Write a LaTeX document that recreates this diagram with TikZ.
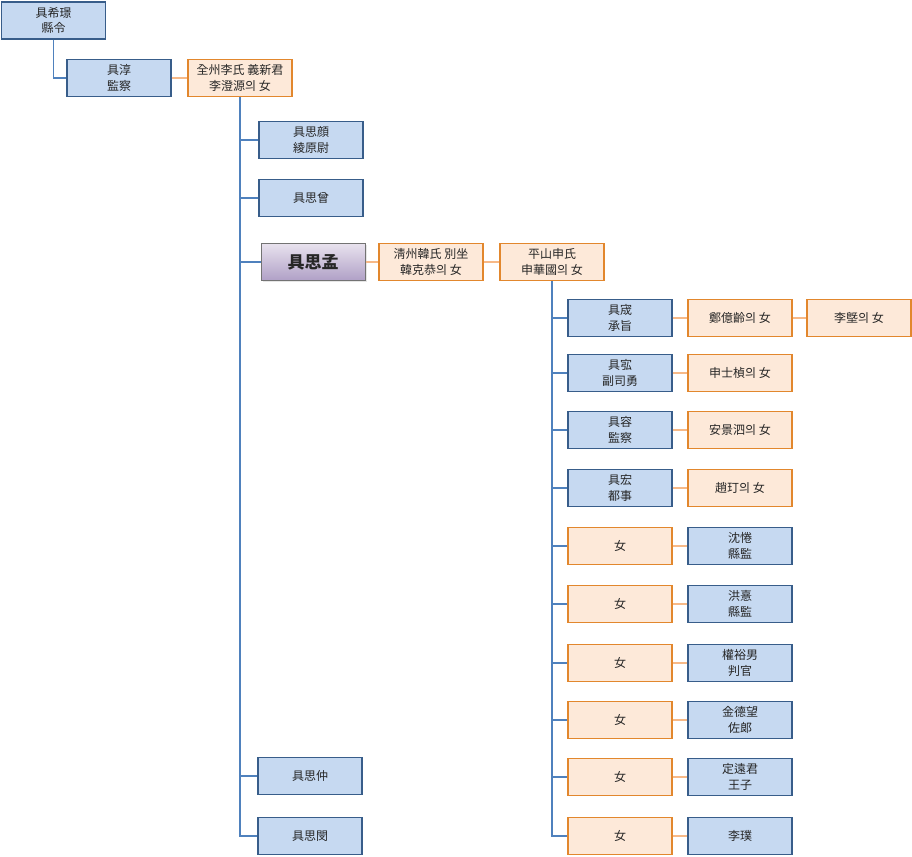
\documentclass[tikz,border=0pt]{standalone}
\usepackage{fontspec}
\setmainfont{Noto Sans CJK KR}
\usetikzlibrary{shadows}

\definecolor{manfill}{RGB}{198,217,241}
\definecolor{mandraw}{RGB}{56,93,138}
\definecolor{womfill}{RGB}{253,233,217}
\definecolor{womdraw}{RGB}{226,135,45}
\definecolor{kinline}{RGB}{79,129,189}
\definecolor{wedline}{RGB}{247,185,135}

\begin{document}
\begin{tikzpicture}[x=1pt, y=-1pt,
    every node/.style={font=\fontsize{12}{15.5}\selectfont, align=center, text=black!85},
    person/.style={draw, line width=1.2pt, minimum width=104pt, minimum height=37pt, inner sep=0pt},
    man/.style={person, fill=manfill, draw=mandraw},
    wife/.style={person, fill=womfill, draw=womdraw},
    kin/.style={kinline, line width=1.8pt},
    wed/.style={wedline, line width=1.8pt}]

    \useasboundingbox (0,0) rectangle (912,856);

    % Top generations
    \node[man] (hwan) at (53.5,20.5) {具希璟\\縣令};
    \node[man] (jun) at (119,78) {具淳\\監察};
    \node[wife] (lee) at (240,78) {全州李氏 義新君\\李澄源의 女};
    \draw[kin] (hwan.south) |- (jun.west);
    \draw[wed] (jun) -- (lee);

    % Sons of 具淳
    \node[man] (sa1) at (311,140) {具思顔\\綾原尉};
    \node[man] (sa2) at (311,198) {具思曾};
    \node[person, draw=black!55, line width=1pt, top color={rgb,255:red,232;green,226;blue,238},
          bottom color={rgb,255:red,176;green,160;blue,198},
          drop shadow={opacity=0.2, shadow xshift=1.5pt, shadow yshift=-1.5pt},
          font=\fontsize{17}{19}\selectfont\bfseries] (main) at (313,262) {具思孟};
    \node[man] (sa4) at (310,776) {具思仲};
    \node[man] (sa5) at (310,836) {具思閔};
    \foreach \c in {sa1, sa2, main, sa4, sa5}
        \draw[kin] (lee.south) |- (\c.west);

    % Wives of 具思孟
    \node[wife] (han) at (431,262) {淸州韓氏 別坐\\韓克恭의 女};
    \node[wife] (shin) at (552,262) {平山申氏\\申華國의 女};
    \draw[wed] (main) -- (han);
    \draw[wed] (han) -- (shin);

    % Sons and their wives
    \foreach \r/\y/\son/\wf in {1/318/{具宬\\承旨}/{鄭億齡의 女},
                                 2/373/{具宖\\副司勇}/{申士楨의 女},
                                 3/430/{具容\\監察}/{安景泗의 女},
                                 4/488/{具宏\\都事}/{趙玎의 女}} {
        \node[man] (a\r) at (620,\y) {\son};
        \node[wife] (b\r) at (740,\y) {\wf};
        \draw[wed] (a\r) -- (b\r);
        \draw[kin] (shin.south) |- (a\r.west);
    }
    \node[wife] (c1) at (859,318) {李墍의 女};
    \draw[wed] (b1) -- (c1);

    % Daughters and their husbands
    \foreach \r/\y/\hus in {5/546/{沈惓\\縣監}, 6/604/{洪憙\\縣監}, 7/663/{權裕男\\判官},
                            8/720/{金德望\\佐郞}, 9/777/{定遠君\\王子}, 10/836/{李璞}} {
        \node[wife] (a\r) at (620,\y) {女};
        \node[man] (b\r) at (740,\y) {\hus};
        \draw[wed] (a\r) -- (b\r);
        \draw[kin] (shin.south) |- (a\r.west);
    }

\end{tikzpicture}
\end{document}
